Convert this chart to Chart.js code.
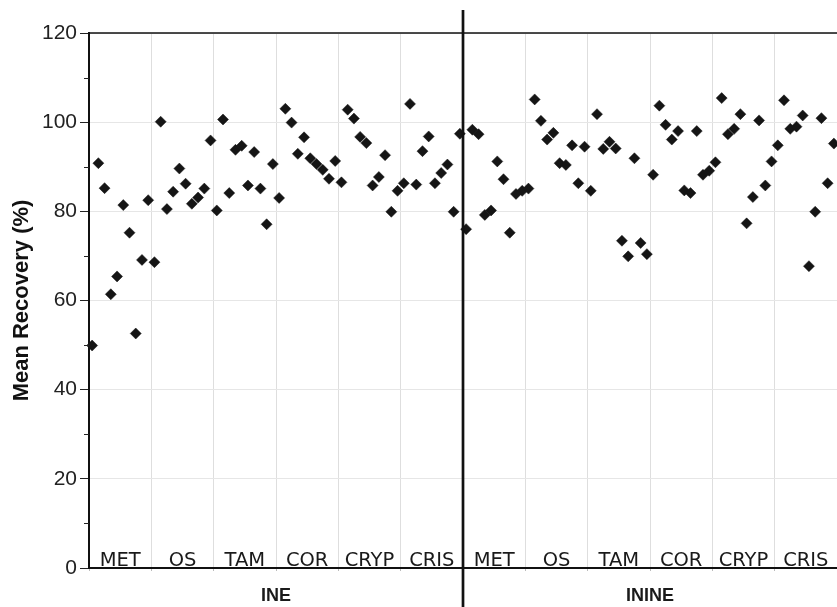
<!DOCTYPE html>
<html>
<head>
<meta charset="utf-8">
<script src="https://cdn.jsdelivr.net/npm/chart.js@4.4.1/dist/chart.umd.min.js"></script>
<style>
  html, body { margin: 0; padding: 0; background: #fff; }
  #wrap { width: 837px; height: 607px; }
</style>
</head>
<body>
<div id="wrap"><canvas id="myChart" width="837" height="607"></canvas></div>
<script>
// categories (same order in both halves)
const compounds = ['MET', 'OS', 'TAM', 'COR', 'CRYP', 'CRIS'];
const methods = ['INE', 'ININE'];
const yTicks = [0, 20, 40, 60, 80, 100, 120];

// mean recovery (%) per compound, INE half
const ineMET = [49.9, 90.8, 85.2, 61.4, 65.4, 81.4, 75.2, 52.6, 69.1, 82.5];
const ineOS = [68.6, 100.1, 80.5, 84.4, 89.6, 86.2, 81.7, 83.1, 85.1, 95.9];
const ineTAM = [80.2, 100.6, 84.1, 93.8, 94.7, 85.8, 93.3, 85.1, 77.1, 90.6];
const ineCOR = [83.0, 103.0, 99.9, 92.9, 96.6, 91.9, 90.6, 89.3, 87.3, 91.3];
const ineCRYP = [86.5, 102.8, 100.8, 96.7, 95.3, 85.8, 87.7, 92.6, 79.9, 84.6];
const ineCRIS = [86.3, 104.1, 86.0, 93.5, 96.8, 86.3, 88.6, 90.5, 79.9, 97.4];

// ININE half
const inineMET = [76.0, 98.3, 97.3, 79.2, 80.2, 91.2, 87.2, 75.2, 83.9, 84.6];
const inineOS = [85.1, 105.1, 100.3, 96.1, 97.6, 90.8, 90.4, 94.8, 86.3, 94.5];
const inineTAM = [84.6, 101.8, 94.0, 95.6, 94.1, 73.4, 69.9, 91.9, 72.9, 70.4];
const inineCOR = [88.2, 103.7, 99.4, 96.1, 98.0, 84.7, 84.1, 98.0, 88.2, 89.1];
const inineCRYP = [91.0, 105.4, 97.3, 98.5, 101.8, 77.3, 83.2, 100.4, 85.8, 91.2];
const inineCRIS = [94.8, 104.9, 98.5, 99.0, 101.5, 67.7, 79.9, 100.9, 86.3, 95.2];

const groups = [ineMET, ineOS, ineTAM, ineCOR, ineCRYP, ineCRIS,
                inineMET, inineOS, inineTAM, inineCOR, inineCRYP, inineCRIS];

// each group takes one unit on the x axis, its 10 samples spread across it
let points = [];
groups.forEach((vals, g) => {
  vals.forEach((v, k) => {
    points.push({x: g + (k + 0.5) / vals.length, y: v});
  });
});

const FONT = "'Liberation Sans', Arial, sans-serif";

const decor = {
  id: 'decor',
  afterDraw(chart) {
    const ctx = chart.ctx;
    const a = chart.chartArea;
    const xs = chart.scales.x;
    const ys = chart.scales.y;
    ctx.save();

    // minor ticks on y
    ctx.strokeStyle = '#222';
    ctx.lineWidth = 1;
    for (let v = 10; v < 120; v += 20) {
      const py = Math.round(ys.getPixelForValue(v)) + 0.5;
      ctx.beginPath();
      ctx.moveTo(a.left - 5, py);
      ctx.lineTo(a.left, py);
      ctx.stroke();
    }

    // top frame line
    ctx.strokeStyle = '#111';
    ctx.lineWidth = 1.5;
    ctx.beginPath();
    ctx.moveTo(a.left, a.top);
    ctx.lineTo(a.right, a.top);
    ctx.stroke();

    // divider between the two methods
    const mid = xs.getPixelForValue(6);
    ctx.lineWidth = 2.7;
    ctx.beginPath();
    ctx.moveTo(mid, 10);
    ctx.lineTo(mid, chart.height);
    ctx.stroke();

    // compound names inside the plot
    ctx.fillStyle = '#1a1a1a';
    ctx.font = "19.5px 'DejaVu Sans', Verdana, sans-serif";
    ctx.textAlign = 'center';
    ctx.textBaseline = 'alphabetic';
    for (let g = 0; g < 12; g++) {
      const cx = xs.getPixelForValue(g + 0.5);
      ctx.fillText(compounds[g % 6], cx, a.bottom - 2);
    }

    // method names under the axis
    ctx.font = 'bold 18px ' + FONT;
    ctx.textBaseline = 'middle';
    methods.forEach((m, i) => {
      const cx = xs.getPixelForValue(i * 6 + 3);
      ctx.fillText(m, cx, 596);
    });
    ctx.restore();
  }
};

let ctx = document.getElementById('myChart').getContext('2d');
var myChart = new Chart(ctx, {
  type: 'scatter',
  data: {
    datasets: [
      {
        data: points,
        pointStyle: 'rectRot',
        pointRadius: 5.5,
        pointBackgroundColor: '#151515',
        pointBorderColor: '#151515',
        pointBorderWidth: 0.5,
        clip: false
      }]
  },
  options: {
    responsive: false,
    animation: false,
    layout: {autoPadding: false, padding: {top: 33, right: 0, left: 0, bottom: 0}},
    plugins: {legend: {display: false}, tooltip: {enabled: false}},
    scales: {
      x: {
        type: 'linear',
        min: 0,
        max: 12,
        ticks: {stepSize: 1, display: false},
        grid: {color: '#dedede', lineWidth: 1, tickLength: 3, tickColor: '#bbb'},
        border: {color: '#111', width: 2},
        afterFit: s => {
          s.height = 39;
          s.paddingLeft = 0;
          s.paddingRight = 0;
        }
      },
      y: {
        min: 0,
        max: 120,
        afterBuildTicks: s => { s.ticks = yTicks.map(v => ({value: v})); },
        ticks: {
          font: {family: FONT, size: 21},
          color: '#222',
          padding: 3
        },
        grid: {color: '#e6e6e6', tickColor: '#222', tickLength: 9},
        border: {color: '#111', width: 2},
        title: {
          display: true,
          text: 'Mean Recovery (%)',
          font: {family: FONT, size: 22, weight: 'bold'},
          color: '#111',
          padding: {top: 9, bottom: 0}
        },
        afterFit: s => {
          s.width = 89;
          s.paddingTop = 0;
          s.paddingBottom = 0;
        }
      }
    }
  },
  plugins: [decor]
});
</script>
</body>
</html>
